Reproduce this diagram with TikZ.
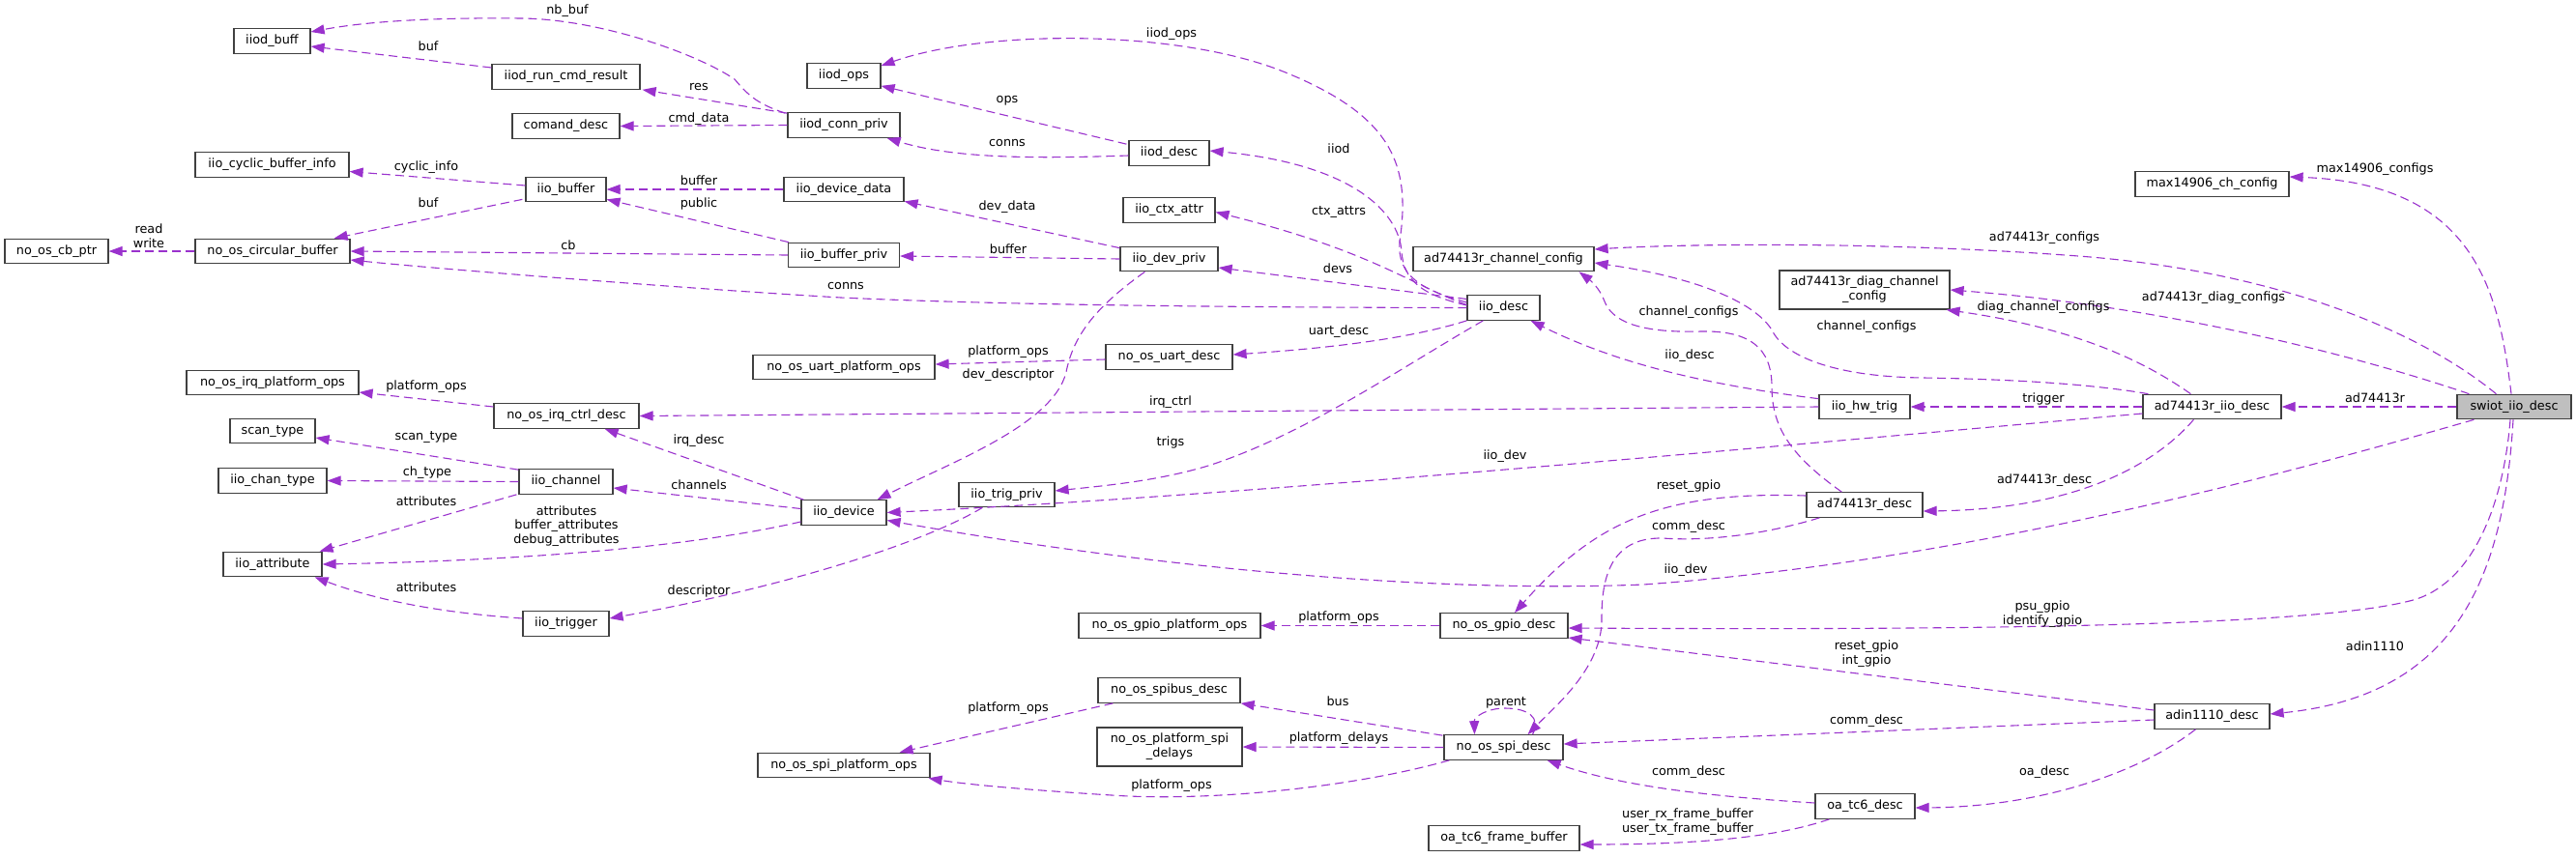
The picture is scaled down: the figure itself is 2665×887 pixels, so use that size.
\documentclass[tikz,border=0pt]{standalone}
\usepackage{fontspec}
\setmainfont{DejaVu Sans}
\usetikzlibrary{calc,arrows.meta}
\definecolor{edgec}{HTML}{9A32CD}
\definecolor{boxline}{HTML}{404040}
\definecolor{swiotgray}{HTML}{BFBFBF}
\newcommand\mybox[5]{\node[box,text height=9.7pt,text depth=3pt,minimum width=#4pt] (#1) at (#2,#3) {#5};}
\newcommand\mylabel[4]{\node[lbl] (#1) at (#2,#3) {#4};}
\begin{document}
\begin{tikzpicture}[x=1pt,y=-1pt,
  font=\fontsize{12.8}{15}\selectfont,
  box/.style={draw=boxline,fill=white,line width=1.2pt,minimum height=25.5pt,inner sep=0pt,align=center},
  lbl/.style={inner sep=0pt,align=center},
  edge/.style={draw=edgec,line width=1.1pt,dash pattern=on 9pt off 5pt,-{Triangle[length=14pt,width=10pt]}}]
\useasboundingbox (0,0) rectangle (2665,887);

% ---------- nodes ----------
\mybox{iiodbuff}{281.5}{42.5}{79}{iiod\_buff}
\mybox{cyclic}{281.5}{170.5}{159}{iio\_cyclic\_buffer\_info}
\mybox{cbptr}{58.5}{260}{107}{no\_os\_cb\_ptr}
\mybox{circ}{282}{260}{160}{no\_os\_circular\_buffer}
\mybox{irqplat}{282}{396}{178}{no\_os\_irq\_platform\_ops}
\mybox{scantype}{282}{446}{88}{scan\_type}
\mybox{chantype}{282}{497.5}{112}{iio\_chan\_type}
\mybox{attr}{282}{584}{102}{iio\_attribute}
\mybox{runcmd}{585.5}{79.5}{153}{iiod\_run\_cmd\_result}
\mybox{comand}{585.5}{130.5}{111}{comand\_desc}
\mybox{iiobuf}{585.5}{196}{83}{iio\_buffer}
\mybox{irqctrl}{586}{430.5}{150}{no\_os\_irq\_ctrl\_desc}
\mybox{channel}{585.5}{498.5}{97}{iio\_channel}
\mybox{trigger}{585.5}{645.5}{89}{iio\_trigger}
\mybox{iiodops}{873}{78.5}{76}{iiod\_ops}
\mybox{connpriv}{873}{129.5}{116}{iiod\_conn\_priv}
\mybox{devdata}{873}{196}{124}{iio\_device\_data}
\mybox{bufpriv}{873}{264}{115}{iio\_buffer\_priv}
\mybox{uartplat}{873}{380}{188}{no\_os\_uart\_platform\_ops}
\mybox{device}{873}{530.5}{88}{iio\_device}
\mybox{spiplat}{873}{792}{178}{no\_os\_spi\_platform\_ops}
\mybox{trigpriv}{1041.5}{512}{99}{iio\_trig\_priv}
\mybox{iioddesc}{1209.5}{158.5}{83}{iiod\_desc}
\mybox{ctxattr}{1209.5}{217.5}{95}{iio\_ctx\_attr}
\mybox{devpriv}{1209.5}{268}{101}{iio\_dev\_priv}
\mybox{uartdesc}{1209.5}{369.5}{131}{no\_os\_uart\_desc}
\mybox{gpioplat}{1210}{647.5}{188}{no\_os\_gpio\_platform\_ops}
\mybox{spibus}{1209.5}{714.5}{147}{no\_os\_spibus\_desc}
\node[box,minimum width=150pt,minimum height=40pt] (spidelays) at (1210,773) {no\_os\_platform\_spi\\\_delays};
\mybox{chconf}{1555.5}{268}{187}{ad74413r\_channel\_config}
\mybox{iiodesc}{1555.5}{318.5}{75}{iio\_desc}
\mybox{gpiodesc}{1556}{647.5}{132}{no\_os\_gpio\_desc}
\mybox{spidesc}{1555.5}{773.5}{123}{no\_os\_spi\_desc}
\mybox{framebuf}{1556}{867.5}{156}{oa\_tc6\_frame\_buffer}
\node[box,minimum width=176pt,minimum height=40pt] (diagconf) at (1929,300) {ad74413r\_diag\_channel\\\_config};
\mybox{hwtrig}{1929}{421}{94}{iio\_hw\_trig}
\mybox{addesc}{1929}{522.5}{120}{ad74413r\_desc}
\mybox{oadesc}{1929.5}{834.5}{103}{oa\_tc6\_desc}
\mybox{maxconf}{2288.5}{190.5}{159}{max14906\_ch\_config}
\mybox{adiio}{2288.5}{421}{143}{ad74413r\_iio\_desc}
\mybox{adin}{2288.5}{741.5}{119}{adin1110\_desc}
\node[box,fill=swiotgray,text height=9.7pt,text depth=3pt,minimum width=118pt] (swiot) at (2601,421) {swiot\_iio\_desc};

% ---------- edges ----------
\draw[edge] ($(connpriv.north west)+(-2,1)$) .. controls (785,108) and (775,100) .. (760,82) .. controls (720,55) and (620,20) .. (540,19) .. controls (450,18) and (380,22) .. ($(iiodbuff.east)+(0,-9.5)$);
\draw[edge] ($(runcmd.west)+(0,-9.5)$) -- ($(iiodbuff.east)+(0,5.5)$);
\draw[edge] ($(connpriv.north west)+(0,1)$) -- ($(runcmd.south east)+(2,0)$);
\draw[edge] (connpriv.west) -- (comand.east);
\draw[edge] ($(iiobuf.west)+(0,-4)$) -- ($(cyclic.east)+(0,7)$);
\draw[edge] ($(iiobuf.south west)+(-3,-3)$) -- ($(circ.north east)+(-17,0)$);
\draw[edge] (devdata.west) -- (iiobuf.east);
\draw[edge] ($(bufpriv.north west)+(1,0)$) -- ($(iiobuf.south east)+(0,-3)$);
\draw[edge] (bufpriv.west) -- (circ.east);
\draw[edge] (circ.west) -- (cbptr.east);
\draw[edge] (iiodesc.west) .. controls (1200,318) and (1000,314) .. (870,308) .. controls (700,298) and (450,278) .. ($(circ.east)+(0,9)$);
\draw[edge] ($(iioddesc.north west)+(-2,4)$) -- ($(iiodops.south east)+(0,-3)$);
\draw[edge] ($(iioddesc.west)+(0,2.5)$) .. controls (1080,164) and (990,165) .. ($(connpriv.south east)+(-14,0)$);
\draw[edge] ($(iiodesc.west)+(0,-5.5)$) .. controls (1470,300) and (1445,285) .. (1448,250) .. controls (1460,170) and (1440,120) .. (1330,75) .. controls (1220,30) and (1020,30) .. ($(iiodops.east)+(0,-10.5)$);
\draw[edge] ($(iiodesc.west)+(0,-2.5)$) .. controls (1470,305) and (1452,290) .. (1450,260) .. controls (1447,220) and (1400,170) .. ($(iioddesc.east)+(0,-2.5)$);
\draw[edge] ($(iiodesc.west)+(0,-3)$) .. controls (1460,295) and (1420,260) .. ($(ctxattr.east)+(0,2)$);
\draw[edge] ($(iiodesc.west)+(0,-9)$) -- ($(devpriv.east)+(0,9)$);
\draw[edge] (iiodesc.south west) .. controls (1460,350) and (1380,360) .. ($(uartdesc.east)+(0,-2.5)$);
\draw[edge] ($(iiodesc.south west)+(17,0)$) .. controls (1450,380) and (1350,450) .. (1250,482) .. controls (1200,497) and (1150,502) .. ($(trigpriv.east)+(0,-4)$);
\draw[edge] ($(devpriv.south west)+(26,0)$) .. controls (1130,320) and (1110,350) .. (1103,385) .. controls (1090,440) and (980,480) .. ($(device.north east)+(-10,0)$);
\draw[edge] ($(devpriv.north west)+(0,2)$) -- ($(devdata.south east)+(0,-1)$);
\draw[edge] (devpriv.west) -- ($(bufpriv.east)+(0,1)$);
\draw[edge] ($(uartdesc.west)+(0,2.5)$) -- ($(uartplat.east)+(0,-3)$);
\draw[edge] ($(irqctrl.west)+(0,-9.5)$) -- ($(irqplat.east)+(0,10)$);
\draw[edge] (hwtrig.west) -- (irqctrl.east);
\draw[edge] ($(device.north west)+(3,0)$) -- ($(irqctrl.south east)+(-36,0)$);
\draw[edge] ($(device.west)+(0,-4)$) -- ($(channel.east)+(0,6.5)$);
\draw[edge] ($(device.west)+(0,9.5)$) .. controls (720,565) and (550,580) .. (attr.east);
\draw[edge] ($(channel.north west)+(0,1)$) -- ($(scantype.east)+(0,7)$);
\draw[edge] (channel.west) -- (chantype.east);
\draw[edge] ($(channel.south west)+(-2,0)$) -- ($(attr.north east)+(-3,0)$);
\draw[edge] ($(trigger.west)+(0,-5.5)$) .. controls (470,635) and (400,625) .. ($(attr.south east)+(-8,0)$);
\draw[edge] ($(trigpriv.south west)+(25,0)$) .. controls (950,565) and (800,610) .. ($(trigger.east)+(0,-5.5)$);
\draw[edge] ($(adiio.west)+(0,7)$) .. controls (1800,465) and (1300,512) .. (device.east);
\draw[edge] ($(swiot.south west)+(18,0)$) .. controls (2400,480) and (2050,580) .. (1700,605) .. controls (1450,615) and (1150,580) .. ($(device.east)+(0,8)$);
\draw[edge] ($(adiio.north west)+(6,0)$) .. controls (2150,395) and (2050,392) .. (1990,391) .. controls (1900,390) and (1850,370) .. (1835,345) .. controls (1820,315) and (1760,288) .. ($(chconf.east)+(0,4)$);
\draw[edge] ($(addesc.north west)+(37,0)$) .. controls (1850,470) and (1833,440) .. (1833,400) .. controls (1833,360) and (1810,342) .. (1760,343) .. controls (1690,345) and (1667,330) .. (1660,312) .. controls (1655,298) and (1645,290) .. ($(chconf.south east)+(-16,0)$);
\draw[edge] ($(swiot.north west)+(41,0)$) .. controls (2500,340) and (2350,280) .. (2150,265) .. controls (1950,250) and (1750,252) .. ($(chconf.east)+(0,-10)$);
\draw[edge] ($(swiot.north west)+(13,0)$) .. controls (2450,372) and (2250,318) .. (diagconf.east);
\draw[edge] ($(adiio.north west)+(50,0)$) .. controls (2220,375) and (2150,340) .. ($(diagconf.south east)+(-4,0)$);
\draw[edge] ($(swiot.north)+(-3,0)$) .. controls (2585,300) and (2560,190) .. ($(maxconf.east)+(0,-7.5)$);
\draw[edge] (adiio.west) -- (hwtrig.east);
\draw[edge] ($(hwtrig.north west)+(0,5)$) .. controls (1780,400) and (1680,380) .. ($(iiodesc.south east)+(-10,0)$);
\draw[edge] (swiot.west) -- (adiio.east);
\draw[edge] ($(adiio.south west)+(53,0)$) .. controls (2230,480) and (2150,527) .. ($(addesc.east)+(0,6.5)$);
\draw[edge] ($(addesc.west)+(0,-9.5)$) .. controls (1720,508) and (1650,540) .. ($(gpiodesc.north)+(11,0)$);
\draw[edge] ($(addesc.south west)+(14,0)$) .. controls (1820,555) and (1760,560) .. (1720,557) .. controls (1665,556) and (1657,600) .. (1657,640) .. controls (1658,690) and (1610,730) .. ($(spidesc.north)+(25,0)$);
\draw[edge] (gpiodesc.west) -- (gpioplat.east);
\draw[edge] ($(swiot.south)+(-4,0)$) .. controls (2590,520) and (2560,600) .. (2500,620) .. controls (2400,650) and (2000,652) .. ($(gpiodesc.east)+(0,2.5)$);
\draw[edge] ($(adin.west)+(0,-6.5)$) -- ($(gpiodesc.east)+(0,12.5)$);
\draw[edge] ($(adin.west)+(0,3.5)$) -- ($(spidesc.east)+(0,-3.5)$);
\draw[edge] ($(swiot.south)+(-1,0)$) .. controls (2590,600) and (2540,720) .. ($(adin.east)+(0,-2.5)$);
\draw[edge] ($(adin.south west)+(43,0)$) .. controls (2220,795) and (2120,835) .. ($(oadesc.east)+(0,1.5)$);
\draw[edge] ($(oadesc.west)+(0,-3.5)$) .. controls (1780,825) and (1680,815) .. ($(spidesc.south east)+(-17,0)$);
\draw[edge] ($(oadesc.south west)+(15,0)$) .. controls (1840,866) and (1760,874) .. ($(framebuf.east)+(0,6.5)$);
\draw[edge] ($(spidesc.north)+(30,0)$) .. controls (1595,742) and (1580,733) .. (1557,733) .. controls (1538,733) and (1525,742) .. ($(spidesc.north)+(-30,0)$);
\draw[edge] ($(spidesc.north west)+(-1,1)$) -- (spibus.south east);
\draw[edge] (spidesc.west) -- (spidelays.east);
\draw[edge] ($(spidesc.south west)+(6,0)$) .. controls (1400,815) and (1250,830) .. (1150,823) .. controls (1070,818) and (1000,812) .. ($(spiplat.south east)+(-2,0)$);
\draw[edge] ($(spibus.south west)+(16,0)$) -- ($(spiplat.north east)+(-32,0)$);

% ---------- labels ----------
\mylabel{lnbbuf}{587}{11}{nb\_buf}
\mylabel{lbuf}{443}{48}{buf}
\mylabel{lres}{723}{90}{res}
\mylabel{lcmd}{723}{123}{cmd\_data}
\mylabel{lcyc}{441}{173}{cyclic\_info}
\mylabel{lbuftwo}{443}{210}{buf}
\mylabel{lbuffer}{723}{187}{buffer}
\mylabel{lpublic}{723}{211}{public}
\mylabel{lcb}{588}{254}{cb}
\mylabel{lrw}{154}{244.5}{read\\write}
\mylabel{lconns}{875}{296}{conns}
\mylabel{lops}{1042}{104}{ops}
\mylabel{lconnstwo}{1042}{148}{conns}
\mylabel{liiodops}{1212}{35}{iiod\_ops}
\mylabel{liiod}{1385}{154}{iiod}
\mylabel{lctx}{1385}{220}{ctx\_attrs}
\mylabel{ldevs}{1384}{278}{devs}
\mylabel{luart}{1385}{343}{uart\_desc}
\mylabel{ltrigs}{1211}{458}{trigs}
\mylabel{ldevdesc}{1043}{388}{dev\_descriptor}
\mylabel{ldevdata}{1042}{214}{dev\_data}
\mylabel{lbuffertwo}{1043}{258}{buffer}
\mylabel{lplatu}{1043}{364}{platform\_ops}
\mylabel{lplati}{441}{400}{platform\_ops}
\mylabel{lirqctrl}{1211}{416}{irq\_ctrl}
\mylabel{lirqdesc}{723}{456}{irq\_desc}
\mylabel{lchannels}{723}{502}{channels}
\node[lbl,font=\fontsize{12.8}{14.5}\selectfont] (lattrs) at (586,544.5) {attributes\\buffer\_attributes\\debug\_attributes};
\mylabel{lscan}{441}{453}{scan\_type}
\mylabel{lchtype}{442}{489}{ch\_type}
\mylabel{lattrone}{441}{519}{attributes}
\mylabel{lattrtwo}{441}{608}{attributes}
\mylabel{ldescr}{723}{612}{descriptor}
\mylabel{liiodevone}{1557}{472}{iio\_dev}
\mylabel{liiodevtwo}{1744}{590}{iio\_dev}
\mylabel{lchcfgone}{1931}{338}{channel\_configs}
\mylabel{lchcfgtwo}{1747}{323}{channel\_configs}
\mylabel{ladcfg}{2115}{246}{ad74413r\_configs}
\mylabel{ladiag}{2290}{308}{ad74413r\_diag\_configs}
\mylabel{ldiagcfg}{2114}{318}{diag\_channel\_configs}
\mylabel{lmax}{2457}{175}{max14906\_configs}
\mylabel{ltrigger}{2114}{413}{trigger}
\mylabel{liiodesc}{1748}{368}{iio\_desc}
\mylabel{lad}{2457}{412}{ad74413r}
\mylabel{laddesc}{2115}{497}{ad74413r\_desc}
\mylabel{lreset}{1747}{503}{reset\_gpio}
\mylabel{lcommone}{1747}{545}{comm\_desc}
\mylabel{lplatg}{1385}{639}{platform\_ops}
\mylabel{lpsu}{2113}{636}{psu\_gpio\\identify\_gpio}
\mylabel{lresint}{1931}{677}{reset\_gpio\\int\_gpio}
\mylabel{lcommtwo}{1931}{746}{comm\_desc}
\mylabel{ladin}{2457}{669}{adin1110}
\mylabel{loa}{2115}{799}{oa\_desc}
\mylabel{lcommthree}{1747}{799}{comm\_desc}
\mylabel{luser}{1746}{851}{user\_rx\_frame\_buffer\\user\_tx\_frame\_buffer}
\mylabel{lparent}{1558}{727}{parent}
\mylabel{lbus}{1384}{726}{bus}
\mylabel{lpdel}{1385}{764}{platform\_delays}
\mylabel{lplats}{1212}{813}{platform\_ops}
\mylabel{lplatb}{1043}{733}{platform\_ops}
\end{tikzpicture}
\end{document}
